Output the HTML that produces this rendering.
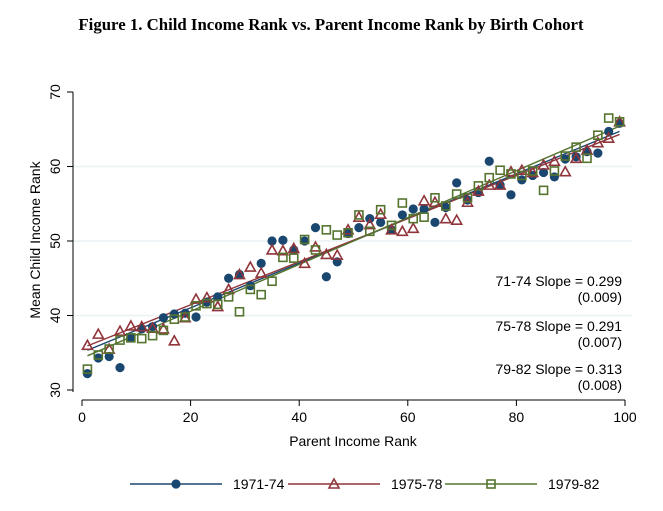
<!DOCTYPE html>
<html><head><meta charset="utf-8"><style>
body{margin:0;background:#fff;}
svg text{font-family:"Liberation Sans",sans-serif;}
</style></head><body>
<svg id="chart" width="663" height="506">
<text x="331" y="30" text-anchor="middle" font-weight="bold" font-size="16.8" style="font-family:'Liberation Serif',serif">Figure 1. Child Income Rank vs. Parent Income Rank by Birth Cohort</text>
<g id="grid"></g><g id="axes"></g><g id="fits"></g><g id="marks"></g>
<g font-size="14" fill="#000">
<text x="622" y="286" text-anchor="end">71-74 Slope = 0.299</text>
<text x="622" y="302" text-anchor="end">(0.009)</text>
<text x="622" y="331" text-anchor="end">75-78 Slope = 0.291</text>
<text x="622" y="347" text-anchor="end">(0.007)</text>
<text x="622" y="374" text-anchor="end">79-82 Slope = 0.313</text>
<text x="622" y="390" text-anchor="end">(0.008)</text>
</g>
<g id="legend"></g>
</svg>
<script>
const xs=[];for(let i=1;i<=99;i+=2)xs.push(i);
const s7174=[32.2,34.3,34.5,33,37,38.2,38.5,39.7,40.2,40.3,39.8,41.8,42.5,45,45.5,44,47,50,50.1,48.8,50,51.8,45.2,47.2,51,51.8,53,52.5,51.5,53.5,54.3,54.3,52.5,54.5,57.8,55.5,56.5,60.7,57.5,56.2,58.2,58.8,59.2,58.6,61,61.3,62,61.8,64.7,65.8];
const s7578=[36,37.5,35.5,37.9,38.6,38.5,38.3,38.2,36.6,39.7,42.2,42.4,41.2,43.5,45.5,46.5,45.7,48.8,48.7,49,47,49.2,48.2,48.1,51.5,53.2,52.2,53.6,51.5,51.3,51.7,55.4,55.2,53,52.8,55.2,56.7,57.5,57.5,59.3,59.5,59.2,60.2,60.7,59.3,61.1,62.2,63.2,63.8,66];
const s7982=[32.8,34.7,35.5,36.7,37,36.9,37.3,38,39.5,39.8,41.3,41.6,41.5,42.5,40.5,43.5,42.8,44.6,47.8,47.7,50.2,48.8,51.5,50.8,51.1,53.5,51.3,54.2,52.1,55.1,53,53.2,55.8,54.7,56.3,55.8,57.4,58.5,59.5,59,58.8,59.4,56.8,59.4,61.4,62.6,61.1,64.2,66.5,66];
const xTicks=[0,20,40,60,80,100];
const yTicks=[30,40,50,60,70];
const seriesNames=["1971-74","1975-78","1979-82"];
const colors=["#1a476f","#90353b","#55752f"];
const NS="http://www.w3.org/2000/svg";
const X=v=>82+5.43*v, Y=v=>390-7.45*(v-30);
function mk(tag,attrs,parent,txt){const e=document.createElementNS(NS,tag);for(const k in attrs)e.setAttribute(k,attrs[k]);if(txt!==undefined)e.textContent=txt;parent.appendChild(e);return e;}
const grid=document.getElementById('grid'),axes=document.getElementById('axes'),fits=document.getElementById('fits'),marks=document.getElementById('marks'),legend=document.getElementById('legend');
yTicks.forEach(t=>{
 if(t>30&&t<70){const g=mk('line',{x1:73,x2:632,y1:Y(t),y2:Y(t),stroke:'#eaf2f3','stroke-width':1.5},grid);
 
 }
 mk('line',{x1:67,x2:73,y1:Y(t),y2:Y(t),stroke:'#000'},axes);
 const tx=mk('text',{x:60,y:Y(t),'font-size':14,'text-anchor':'middle',transform:`rotate(-90 60 ${Y(t)})`},axes,t);
 
 
});
mk('line',{x1:73,x2:73,y1:Y(30)+2,y2:Y(70),stroke:'#000'},axes);
mk('line',{x1:X(0),x2:X(100),y1:400,y2:400,stroke:'#000'},axes);
xTicks.forEach(t=>{
 mk('line',{x1:X(t),x2:X(t),y1:400,y2:406,stroke:'#000'},axes);
 const tx=mk('text',{x:X(t),y:422,'font-size':14,'text-anchor':'middle'},axes,t);
 
 
});
const xt=mk('text',{x:353,y:446,'font-size':14,'text-anchor':'middle'},axes,'Parent Income Rank');


const yt=mk('text',{x:40,y:240,'font-size':14,'text-anchor':'middle',transform:'rotate(-90 40 240)'},axes,'Mean Child Income Rank');


function marker(kind,cx,cy,col,p){
 let e;
 if(kind===0)e=mk('circle',{cx,cy,r:4.6,fill:col},p);
 else if(kind===1)e=mk('polygon',{points:`${cx},${cy-5} ${cx+5},${cy+4} ${cx-5},${cy+4}`,fill:'none',stroke:col,'stroke-width':1.6},p);
 else e=mk('rect',{x:cx-4,y:cy-4,width:8,height:8,fill:'none',stroke:col,'stroke-width':1.6},p);
 return e;
}
[s7174,s7578,s7982].forEach((s,k)=>{
 const n=xs.length;let mx=0,my=0;xs.forEach((x,i)=>{mx+=x;my+=s[i];});mx/=n;my/=n;
 let sxy=0,sxx=0;xs.forEach((x,i)=>{sxy+=(x-mx)*(s[i]-my);sxx+=(x-mx)**2;});
 const b=sxy/sxx,a=my-b*mx;
 const l=mk('line',{x1:X(1),y1:Y(a+b),x2:X(99),y2:Y(a+b*99),stroke:colors[k],'stroke-width':1.4},fits);
 
 
 s.forEach((v,i)=>{
  const m=marker(k,X(xs[i]),Y(v),colors[k],marks);
  
  
 });
});
const lx=[130,288,445];
seriesNames.forEach((nm,k)=>{
 const g=mk('g',{},legend);
 
 
 mk('line',{x1:lx[k],x2:lx[k]+92,y1:484,y2:484,stroke:colors[k],'stroke-width':1.4},g);
 marker(k,lx[k]+46,484,colors[k],g);
 mk('text',{x:lx[k]+103,y:489,'font-size':14},g,nm);
});
</script>
</body></html>
